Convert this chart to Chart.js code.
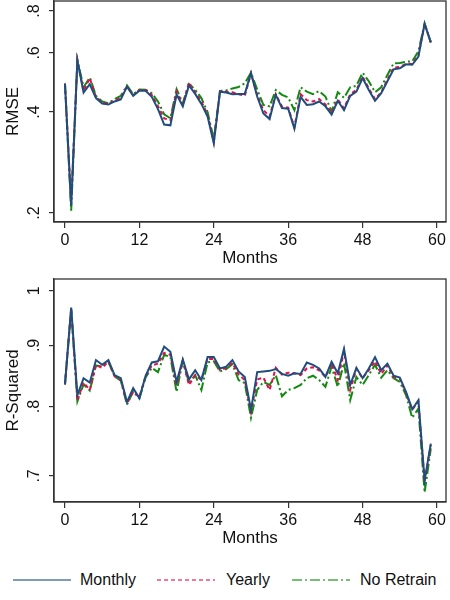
<!DOCTYPE html>
<html>
<head>
<meta charset="utf-8">
<script src="https://cdn.jsdelivr.net/npm/chart.js@4.4.0/dist/chart.umd.min.js"></script>
<style>
  body { margin: 0; background: #fff; width: 450px; height: 600px; position: relative; overflow: hidden;
         font-family: "Liberation Sans", Arial, sans-serif; color: #111; }
  .panel { position: absolute; left: 0; width: 450px; }
  #topBox { top: 0; height: 270px; }
  #botBox { top: 270px; height: 280px; }
  .leg { position: absolute; top: 570px; font-size: 16px; line-height: 20px; white-space: nowrap; }
  .leg svg { position: absolute; top: 8px; }
</style>
</head>
<body>
<div class="panel" id="topBox"><canvas id="rmseChart"></canvas></div>
<div class="panel" id="botBox"><canvas id="r2Chart"></canvas></div>

<div class="leg" style="left:13px">
  <svg width="58" height="4" style="left:0"><line x1="0" y1="2" x2="58" y2="2" stroke="#1e4d7e" stroke-opacity="0.75" stroke-width="1.5"/></svg>
  <span style="position:absolute;left:67px;top:0">Monthly</span>
</div>
<div class="leg" style="left:157px">
  <svg width="58" height="4" style="left:0"><line x1="0" y1="2" x2="58" y2="2" stroke="#e0104a" stroke-opacity="0.75" stroke-width="1.5" stroke-dasharray="4 3"/></svg>
  <span style="position:absolute;left:69px;top:0">Yearly</span>
</div>
<div class="leg" style="left:292px">
  <svg width="58" height="4" style="left:0"><line x1="0" y1="2" x2="58" y2="2" stroke="#128a12" stroke-opacity="0.75" stroke-width="1.5" stroke-dasharray="10 3 2 3"/></svg>
  <span style="position:absolute;left:68px;top:0">No Retrain</span>
</div>

<script>
// months since start
const months = Array.from({ length: 60 }, (_, i) => i);
const xTicks = [0, 12, 24, 36, 48, 60];

// RMSE (log scale)
const rmseMonthly = [.486,.21,.57,.457,.484,.440,.424,.421,.430,.436,.476,.447,.463,.463,.444,.408,.367,.365,.451,.416,
  .480,.453,.423,.388,.323,.460,.457,.452,.453,.453,.522,.445,.396,.381,.450,.411,.409,.357,.444,.420,
  .422,.430,.416,.393,.432,.405,.447,.460,.505,.465,.432,.455,.494,.536,.540,.555,.553,.585,.732,.645];
const rmseYearly = [.486,.215,.57,.462,.505,.443,.427,.423,.433,.440,.478,.449,.465,.465,.450,.416,.383,.378,.460,.420,
  .490,.458,.430,.393,.326,.462,.460,.458,.452,.447,.522,.450,.405,.388,.452,.415,.412,.360,.452,.434,
  .430,.437,.421,.398,.436,.410,.452,.465,.510,.470,.437,.458,.500,.542,.545,.557,.556,.590,.733,.645];
const rmseNoRetrain = [.486,.203,.572,.474,.507,.447,.430,.425,.437,.447,.480,.452,.467,.466,.455,.430,.394,.383,.468,.425,
  .485,.466,.440,.400,.331,.462,.464,.470,.475,.487,.524,.467,.420,.416,.465,.450,.442,.405,.474,.460,
  .452,.462,.445,.401,.458,.441,.474,.479,.524,.494,.458,.474,.516,.559,.560,.565,.566,.607,.735,.645];
const rmseTicks = [.2, .4, .6, .8];
const rmseTickLabels = ['.2', '.4', '.6', '.8'];

// R-squared (log scale)
const r2Monthly = [.835,.968,.818,.845,.838,.875,.867,.875,.850,.845,.807,.829,.813,.849,.871,.873,.898,.889,.839,.876,
  .843,.858,.842,.880,.880,.861,.864,.875,.856,.847,.795,.855,.856,.857,.860,.852,.849,.853,.852,.871,
  .867,.861,.847,.872,.853,.894,.834,.862,.845,.861,.880,.858,.869,.849,.846,.823,.796,.810,.694,.745];
const r2Yearly = [.835,.966,.810,.838,.826,.867,.862,.873,.848,.842,.805,.823,.815,.848,.866,.869,.887,.884,.834,.874,
  .834,.850,.842,.877,.877,.858,.862,.870,.851,.842,.792,.843,.846,.826,.862,.851,.854,.853,.850,.861,
  .863,.858,.847,.869,.842,.890,.826,.860,.845,.858,.873,.852,.866,.847,.844,.821,.795,.808,.692,.743];
const r2NoRetrain = [.835,.965,.808,.835,.825,.866,.864,.872,.848,.841,.803,.824,.813,.846,.862,.855,.884,.880,.823,.874,
  .838,.850,.826,.871,.873,.856,.860,.868,.842,.837,.783,.826,.839,.834,.850,.816,.826,.829,.834,.845,
  .849,.842,.831,.864,.831,.870,.810,.847,.834,.850,.867,.846,.858,.845,.839,.818,.783,.797,.678,.738];
const r2Ticks = [.7, .8, .9, 1];
const r2TickLabels = ['.7', '.8', '.9', '1'];

const FONT = '"Liberation Sans", Arial, sans-serif';
Chart.defaults.font.family = FONT;
Chart.defaults.color = '#111';

const toXY = arr => months.map((m, i) => ({ x: m, y: arr[i] }));

// frame around plot region + rotated y tick labels
const framePlugin = {
  id: 'frame',
  afterDraw(chart, args, opts) {
    const { ctx, chartArea: a } = chart;
    const ys = chart.scales.y;
    ctx.save();
    ctx.strokeStyle = '#333';
    ctx.lineWidth = 1.3;
    ctx.strokeRect(a.left, a.top, a.right - a.left, a.bottom - a.top);
    ctx.fillStyle = '#111';
    ctx.font = '16px ' + FONT;
    ctx.textAlign = 'center';
    ctx.textBaseline = 'middle';
    opts.values.forEach((v, i) => {
      const y = ys.getPixelForValue(v);
      ctx.save();
      ctx.translate(35, y);
      ctx.rotate(-Math.PI / 2);
      ctx.fillText(opts.labels[i], 0, 0);
      ctx.restore();
    });
    ctx.restore();
  }
};

function makePanel(id, series, yTitle, yMin, yMax, yTicks, yLabels, padTop) {
  new Chart(document.getElementById(id), {
    type: 'line',
    data: {
      datasets: [
        { label: 'Monthly', data: toXY(series[0]), borderColor: '#1e4d7e', borderWidth: 2 },
        { label: 'Yearly', data: toXY(series[1]), borderColor: '#e0104a', borderWidth: 2, borderDash: [4, 3] },
        { label: 'No Retrain', data: toXY(series[2]), borderColor: '#128a12', borderWidth: 2, borderDash: [10, 3, 2, 3] }
      ]
    },
    options: {
      responsive: true,
      maintainAspectRatio: false,
      animation: false,
      layout: { padding: { left: 0, top: padTop, right: 4, bottom: 0 } },
      elements: { point: { radius: 0 }, line: { tension: 0 } },
      plugins: {
        legend: { display: false },
        tooltip: { enabled: false },
        frame: { values: yTicks, labels: yLabels }
      },
      scales: {
        x: {
          type: 'linear',
          min: -1.77,
          max: 61.45,
          afterBuildTicks: s => { s.ticks = xTicks.map(v => ({ value: v })); },
          afterFit: s => { s.height = 48; },
          grid: { drawOnChartArea: false, drawTicks: true, tickLength: 6, color: '#333', lineWidth: 1.2 },
          border: { display: true, color: '#333', width: 1.3 },
          ticks: { font: { size: 16 }, color: '#111', padding: 3, maxRotation: 0, autoSkip: false },
          title: { display: true, text: 'Months', font: { size: 17 }, color: '#111', padding: { top: 0, bottom: 1 } }
        },
        y: {
          type: 'logarithmic',
          min: yMin,
          max: yMax,
          afterBuildTicks: s => { s.ticks = yTicks.map(v => ({ value: v })); },
          afterFit: s => { s.width = 54; },
          grid: { drawOnChartArea: false, drawTicks: true, tickLength: 5, color: '#333', lineWidth: 1.2 },
          border: { display: true, color: '#333', width: 1.3 },
          ticks: { display: false },
          title: { display: true, text: yTitle, font: { size: 17 }, color: '#111', padding: { top: 3, bottom: 0 } }
        }
      }
    },
    plugins: [framePlugin]
  });
}

makePanel('rmseChart', [rmseMonthly, rmseYearly, rmseNoRetrain], 'RMSE', 0.188, 0.857, rmseTicks, rmseTickLabels, 1);
makePanel('r2Chart', [r2Monthly, r2Yearly, r2NoRetrain], 'R-Squared', 0.6657, 1.0229, r2Ticks, r2TickLabels, 9);
</script>
</body>
</html>
